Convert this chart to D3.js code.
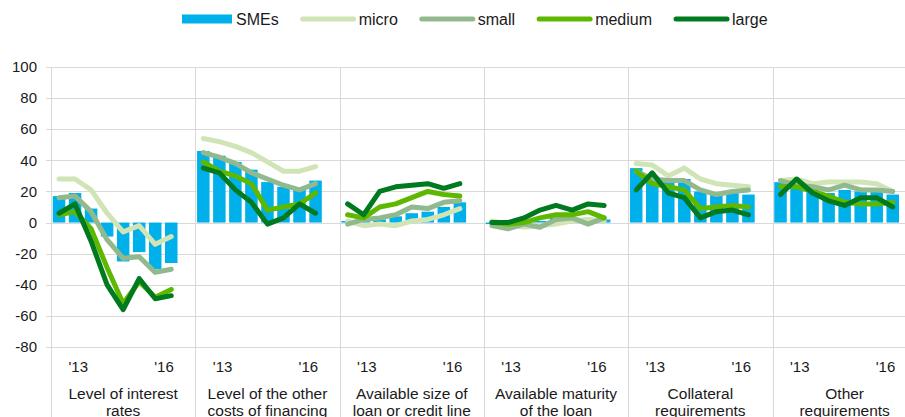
<!DOCTYPE html>
<html>
<head>
<meta charset="utf-8">
<script src="https://cdn.jsdelivr.net/npm/d3@7"></script>
<style>
  body { margin: 0; background: #fff; }
  svg { display: block; font-family: "Liberation Sans", Arial, sans-serif; }
</style>
</head>
<body>
<div id="chart"></div>
<script>
// Panels (two text lines each)
const categories = [
    ["Level of interest", "rates"],
    ["Level of the other", "costs of financing"],
    ["Available size of", "loan or credit line"],
    ["Available maturity", "of the loan"],
    ["Collateral", "requirements"],
    ["Other", "requirements"],
];

// survey waves inside each panel
const waves = ["w1", "w2", "w3", "w4", "w5", "w6", "w7", "w8"];
const tickLabels = ["'13", "'16"];
const yTicks = [-80, -60, -40, -20, 0, 20, 40, 60, 80, 100];

// one row per panel, one value per wave
const smes = [
    [17, 19, 9, -9, -25, -19, -30, -26],
    [46, 43, 39, 34, 26, 23, 21, 27],
    [1, 1, 2, 4, 6, 7, 10, 13],
    [-1, 0, 0, 1, 3, 2, 3, 2],
    [35, 30, 27, 28, 20, 19, 19, 18],
    [26, 24, 21, 19, 21, 20, 20, 18],
];
const micro = [
    [28, 28, 21, 6, -6, -2, -14, -9],
    [54, 52, 49, 45, 39, 33, 33, 36],
    [1, -2, -1, -2, 1, 2, 5, 9],
    [1, -1, -3, -2, -1, 1, 2, 1],
    [38, 37, 30, 35, 28, 25, 24, 23],
    [27, 28, 25, 26, 26, 26, 25, 20],
];
const small = [
    [16, 17, 7, -11, -23, -22, -32, -30],
    [45, 42, 38, 32, 28, 24, 21, 25],
    [-1, 2, 3, 5, 10, 9, 13, 14],
    [-2, -4, -1, -3, 2, 3, -1, 3],
    [33, 28, 27, 27, 21, 18, 20, 21],
    [27, 24, 23, 21, 24, 21, 21, 20],
];
const medium = [
    [5, 7, -4, -29, -52, -38, -48, -43],
    [39, 33, 30, 25, 8, 10, 12, 19],
    [5, 3, 10, 12, 16, 20, 18, 17],
    [0, -1, 0, 3, 5, 5, 7, 3],
    [33, 25, 23, 21, 9, 10, 11, 10],
    [23, 23, 20, 17, 13, 12, 12, 13],
];
const large = [
    [6, 12, -12, -40, -56, -36, -49, -47],
    [35, 32, 21, 13, -1, 3, 12, 6],
    [12, 5, 20, 23, 24, 25, 22, 25],
    [0, 0, 3, 8, 11, 8, 12, 11],
    [21, 32, 19, 16, 3, 7, 8, 5],
    [18, 28, 19, 14, 11, 16, 16, 10],
];

const lineSeries = [
    { name: "micro", values: micro, color: "#d0e4b6" },
    { name: "small", values: small, color: "#91b98d" },
    { name: "medium", values: medium, color: "#5fb800" },
    { name: "large", values: large, color: "#007a1e" },
];
const barColor = "#00b0ea";
const gridColor = "#d9d9d9";
const textColor = "#1a1a1a";

const width = 905;
const height = 417;
const marginTop = 67;
const marginLeft = 51;
const plotBottom = 347;
const panelWidth = 144.3;

const svg = d3.select("#chart")
    .append("svg")
    .attr("width", width)
    .attr("height", height);

// y scale shared by all panels
const y = d3.scaleLinear()
    .domain([-80, 100])
    .range([plotBottom, marginTop]);

// panel positions
const xPanel = d3.scaleBand()
    .domain(d3.range(categories.length))
    .range([marginLeft, marginLeft + panelWidth * categories.length])
    .paddingInner(0)
    .paddingOuter(0);

// 9 slots per panel, the last one stays empty
const xSlot = d3.scaleBand()
    .domain(d3.range(waves.length + 1))
    .range([0, panelWidth])
    .paddingInner(0.22)
    .paddingOuter(0.11);

// horizontal grid lines
svg.append("g")
    .selectAll("line")
    .data(yTicks)
    .enter()
    .append("line")
    .attr("x1", marginLeft - 5)
    .attr("x2", width)
    .attr("y1", (d) => Math.round(y(d)) + 0.5)
    .attr("y2", (d) => Math.round(y(d)) + 0.5)
    .attr("stroke", gridColor)
    .attr("stroke-width", 1);

// y tick labels
svg.append("g")
    .selectAll("text")
    .data(yTicks)
    .enter()
    .append("text")
    .attr("x", 37)
    .attr("y", (d) => y(d))
    .attr("dy", "0.35em")
    .attr("text-anchor", "end")
    .style("font-size", "15px")
    .style("fill", textColor)
    .text((d) => d);

// vertical separators (axis line + panel borders)
svg.append("g")
    .selectAll("line")
    .data(d3.range(categories.length + 1))
    .enter()
    .append("line")
    .attr("x1", (d) => Math.round(marginLeft + d * panelWidth) + 0.5)
    .attr("x2", (d) => Math.round(marginLeft + d * panelWidth) + 0.5)
    .attr("y1", marginTop)
    .attr("y2", height)
    .attr("stroke", gridColor)
    .attr("stroke-width", 1);

const panel = svg.append("g")
    .selectAll("g")
    .data(categories)
    .enter()
    .append("g")
    .attr("transform", (d, i) => `translate(${xPanel(i)},0)`);

// SME bars
panel.append("g")
    .selectAll("rect")
    .data((d, i) => smes[i])
    .enter()
    .append("rect")
    .attr("x", (d, j) => xSlot(j))
    .attr("width", xSlot.bandwidth())
    .attr("y", (d) => y(Math.max(0, d)))
    .attr("height", (d) => Math.abs(y(d) - y(0)))
    .attr("fill", barColor);

// size class lines
const line = d3.line()
    .x((d, j) => xSlot(j) + xSlot.bandwidth() / 2)
    .y((d) => y(d));

lineSeries.forEach((s) => {
    panel.append("path")
        .attr("d", (d, i) => line(s.values[i]))
        .attr("fill", "none")
        .attr("stroke", s.color)
        .attr("stroke-width", 5)
        .attr("stroke-linejoin", "round")
        .attr("stroke-linecap", "round");
});

// year labels inside each panel
const tickAt = [1.7, 7.05]; // in slot units
const slotUnit = panelWidth / (waves.length + 1);
panel.append("g")
    .selectAll("text")
    .data(tickLabels)
    .enter()
    .append("text")
    .attr("x", (d, k) => tickAt[k] * slotUnit)
    .attr("y", 372)
    .attr("text-anchor", "middle")
    .style("font-size", "15px")
    .style("fill", textColor)
    .text((d) => d);

// category labels
panel.append("text")
    .attr("x", panelWidth / 2)
    .attr("y", 399)
    .attr("text-anchor", "middle")
    .style("font-size", "15.5px")
    .style("fill", textColor)
    .selectAll("tspan")
    .data((d) => d)
    .enter()
    .append("tspan")
    .attr("x", panelWidth / 2)
    .attr("dy", (d, k) => (k === 0 ? 0 : 17))
    .text((d) => d);

// legend
const legendItems = [{ name: "SMEs", color: barColor, bar: true }]
    .concat(lineSeries.map((s) => ({ name: s.name, color: s.color, bar: false })));

const legend = svg.append("g").attr("transform", "translate(182,19)");
let lx = 0;
legendItems.forEach((item) => {
    const g = legend.append("g").attr("transform", `translate(${lx},0)`);
    let textX;
    if (item.bar) {
        g.append("rect")
            .attr("x", 0)
            .attr("y", -4.5)
            .attr("width", 50)
            .attr("height", 9)
            .attr("fill", item.color);
        textX = 54;
    } else {
        g.append("line")
            .attr("x1", 2)
            .attr("x2", 53)
            .attr("y1", 0)
            .attr("y2", 0)
            .attr("stroke", item.color)
            .attr("stroke-width", 5)
            .attr("stroke-linecap", "round");
        textX = 58;
    }
    const t = g.append("text")
        .attr("x", textX)
        .attr("y", 0)
        .attr("dy", "0.35em")
        .style("font-size", "16px")
        .style("fill", textColor)
        .text(item.name);
    lx += textX + t.node().getComputedTextLength() + 22;
});
</script>
</body>
</html>
